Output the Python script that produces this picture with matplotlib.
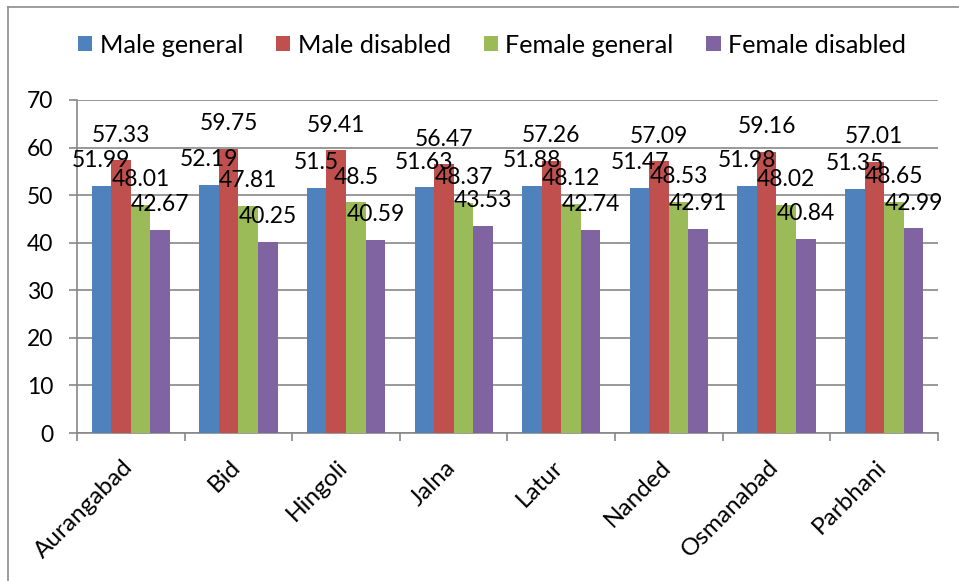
import numpy as np
import matplotlib
matplotlib.use("Agg")
import matplotlib.pyplot as plt
from matplotlib.lines import Line2D
import matplotlib.transforms as mtransforms

plt.rcParams['font.family'] = ['Lato', 'DejaVu Sans']

# districts on the x axis
districts = ["Aurangabad", "Bid", "Hingoli", "Jalna", "Latur", "Nanded", "Osmanabad", "Parbhani"]

# one list per group
male_general = [51.99, 52.19, 51.5, 51.63, 51.88, 51.47, 51.98, 51.35]
male_disabled = [57.33, 59.75, 59.41, 56.47, 57.26, 57.09, 59.16, 57.01]
female_general = [48.01, 47.81, 48.5, 48.37, 48.12, 48.53, 48.02, 48.65]
female_disabled = [42.67, 40.25, 40.59, 43.53, 42.74, 42.91, 40.84, 42.99]

series_names = ["Male general", "Male disabled", "Female general", "Female disabled"]
series_colors = ["#4F81BD", "#C0504D", "#9BBB59", "#8064A2"]
series_values = [male_general, male_disabled, female_general, female_disabled]

fsize = 16.5
grid_col = "#878787"

fig = plt.figure(figsize=(9.59, 5.81), dpi=100)
ax = fig.add_axes([0.0803, 0.2547, 0.8977, 0.5732])

x = np.arange(len(districts))
w = 1 / 5.5  # four bars plus a gap of 150%

handles = []
for j, (name, col, vals) in enumerate(zip(series_names, series_colors, series_values)):
    pos = x + (j - 1.5) * w
    bars = ax.bar(pos, vals, width=w, color=col, label=name, zorder=3)
    handles.append(bars)
    # value written above each bar
    for px, v in zip(pos, vals):
        ax.annotate(f"{v:g}", xy=(px, v), xytext=(0, 13.5), textcoords="offset points",
                    ha="center", va="baseline", fontsize=fsize, color="black", zorder=5)

ax.set_xlim(-0.5, len(districts) - 0.5)
ax.set_ylim(0, 70)
ax.set_yticks(np.arange(0, 71, 10))
ax.tick_params(axis="y", labelsize=fsize, length=6, width=1.2, color=grid_col, pad=11)

# category names at the centres, tick marks on the boundaries
ax.set_xticks(x)
ax.set_xticklabels(districts, rotation=45, ha="right", fontsize=17.5)
ax.set_xticks(np.arange(-0.5, len(districts)), minor=True)
ax.tick_params(axis="x", which="major", length=0, pad=17)
ax.tick_params(axis="x", which="minor", length=6, width=1.2, color=grid_col)
shift = mtransforms.ScaledTranslation(6 / 100, 0, fig.dpi_scale_trans)
for lbl in ax.get_xticklabels():
    lbl.set_transform(lbl.get_transform() + shift)

ax.yaxis.grid(True, color=grid_col, lw=1.2, zorder=0)
ax.set_axisbelow(True)
for side in ["top", "right"]:
    ax.spines[side].set_visible(False)
for side in ["left", "bottom"]:
    ax.spines[side].set_color(grid_col)
    ax.spines[side].set_linewidth(1.2)

fig.legend(handles=handles, loc="center", bbox_to_anchor=(0.513, 0.9225), ncol=4,
           frameon=False, fontsize=18.2, handlelength=0.56, handleheight=0.56,
           handletextpad=0.3, columnspacing=1.3)

# chart border
fig.add_artist(Line2D([8 / 959, 8 / 959], [0, 1 - 7 / 581], color="#8c8c8c", lw=1.2))
fig.add_artist(Line2D([8 / 959, 1], [1 - 7 / 581, 1 - 7 / 581], color="#8c8c8c", lw=1.2))

fig.savefig("out.png", dpi=100)
